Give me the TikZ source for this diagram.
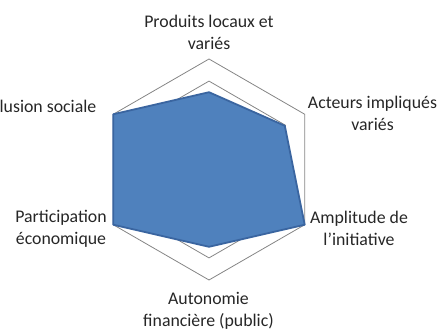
\documentclass[tikz,border=0pt]{standalone}
\usepackage{fontspec}
\setmainfont{Carlito}
\begin{document}
\begin{tikzpicture}[x=1pt,y=1pt,
  grid/.style={draw=black!48,line width=0.8pt,line join=miter},
  data/.style={fill=datafill,draw=databorder,line width=1.8pt,line join=round},
  lab/.style={font=\fontsize{17.8}{22}\selectfont,align=center,inner sep=0pt,text=black!85}]
\definecolor{datafill}{HTML}{4F81BD}
\definecolor{databorder}{HTML}{3A65A0}
\useasboundingbox (0,0) rectangle (448,330);
\clip (0,0) rectangle (448,330);
\coordinate (C) at (209,160.5);
\begin{scope}[shift={(C)}]
  % grid hexagons
  \draw[grid] (90:88.4) -- (30:88.4) -- (-30:88.4) -- (-90:88.4) -- (210:88.4) -- (150:88.4) -- cycle;
  \draw[grid] (90:110.5) -- (30:110.5) -- (-30:110.5) -- (-90:110.5) -- (210:110.5) -- (150:110.5) -- cycle;
  % data polygon
  \coordinate (d1) at (90:77.3);
  \coordinate (d2) at (30:87.5);
  \coordinate (d3) at (-30:110.5);
  \coordinate (d4) at (-90:77.3);
  \coordinate (d5) at (210:110.5);
  \coordinate (d6) at (150:110.5);
  \draw[data] (d1) -- (d2) -- (d3) -- (d4) -- (d5) -- (d6) -- cycle;
\end{scope}
\node[lab] (l1) at (209,297.5) {Produits locaux et\\variés};
\node[lab] (l2) at (372.5,216.5) {Acteurs impliqués\\variés};
\node[lab] (l3) at (359,101.5) {Amplitude de\\l’initiative};
\node[lab] (l4) at (208.5,19.5) {Autonomie\\financière (public)};
\node[lab] (l5) at (61,101.5) {Participation\\économique};
\node[lab,anchor=base east] (l6) at (96.5,217) {Inclusion sociale};
\end{tikzpicture}
\end{document}
